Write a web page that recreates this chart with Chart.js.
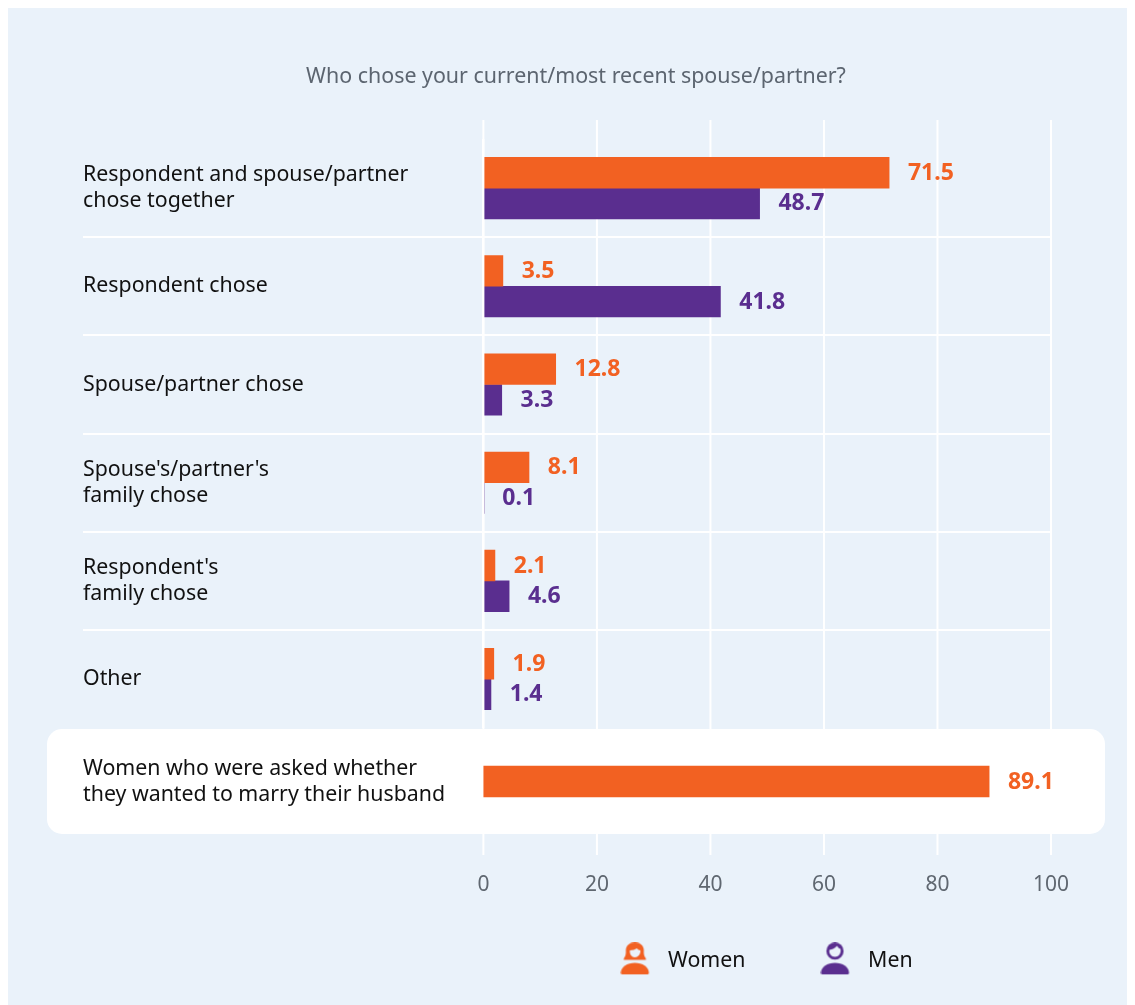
<!DOCTYPE html>
<html>
<head>
<meta charset="utf-8">
<title>Who chose your current/most recent spouse/partner?</title>
<script src="https://cdn.jsdelivr.net/npm/chart.js@4"></script>
<style>
html, body { margin: 0; padding: 0; background: #fff; overflow: hidden; }
#wrap { position: relative; width: 1135px; height: 1005px; overflow: hidden; }
#panel { position: absolute; left: 8px; top: 8px; width: 1119px; height: 997px; background: #eaf2fa; }
#wrap canvas { position: absolute; left: 0; top: 0; }
#title { position: absolute; left: 0; top: 60px; width: 1152px; text-align: center; font: 21.4px "Noto Sans"; line-height: 30px; color: #5c6570; }
</style>
</head>
<body>
<div id="wrap">
  <div id="panel"></div>
  <canvas id="askedChart" width="1135" height="1005"></canvas>
  <canvas id="choseChart" width="1135" height="1005"></canvas>
  <div id="title">Who chose your current/most recent spouse/partner?</div>
</div>
<script>
const categories = [
  ["Respondent and spouse/partner", "chose together"],
  "Respondent chose",
  "Spouse/partner chose",
  ["Spouse's/partner's", "family chose"],
  ["Respondent's", "family chose"],
  "Other"
];
const women = [71.5, 3.5, 12.8, 8.1, 2.1, 1.9];
const men = [48.7, 41.8, 3.3, 0.1, 4.6, 1.4];
const askedCategory = [["Women who were asked whether", "they wanted to marry their husband"]];
const askedWomen = [89.1];

const ORANGE = "#f26122";
const PURPLE = "#5a2e8f";
const FONT = "Noto Sans";

// little person icons for the legend
function makeIcon(color, isWoman) {
  const c = document.createElement("canvas");
  c.width = 30;
  c.height = 38;
  const g = c.getContext("2d");
  g.fillStyle = color;
  // body
  g.beginPath();
  g.moveTo(0.5, 30.5);
  g.bezierCurveTo(0.5, 24.5, 7, 20.5, 14.5, 20.5);
  g.bezierCurveTo(22, 20.5, 28.5, 24.5, 28.5, 30.5);
  g.quadraticCurveTo(28.5, 32, 27, 32);
  g.lineTo(2, 32);
  g.quadraticCurveTo(0.5, 32, 0.5, 30.5);
  g.fill();
  if (isWoman) {
    // hair
    g.beginPath();
    g.moveTo(3.5, 16);
    g.bezierCurveTo(6, 13, 5.5, 9, 5.5, 8);
    g.bezierCurveTo(5.5, 3, 9.5, 0, 14.5, 0);
    g.bezierCurveTo(19.5, 0, 23.5, 3, 23.5, 8);
    g.bezierCurveTo(23.5, 9, 23, 13, 25.5, 16);
    g.lineTo(25.5, 17.5);
    g.lineTo(3.5, 17.5);
    g.closePath();
    g.fill();
    g.globalCompositeOperation = "destination-out";
    g.beginPath();
    g.moveTo(9.5, 8);
    g.quadraticCurveTo(14, 8, 16.5, 6);
    g.quadraticCurveTo(18, 8, 20, 8);
    g.bezierCurveTo(20.5, 12, 17.5, 15, 14.5, 15);
    g.bezierCurveTo(11.5, 15, 9, 12, 9.5, 8);
    g.fill();
  } else {
    g.beginPath();
    g.arc(14.5, 8.7, 8.6, 0, Math.PI * 2);
    g.fill();
    g.globalCompositeOperation = "destination-out";
    g.beginPath();
    g.moveTo(9, 7.5);
    g.quadraticCurveTo(13.5, 7, 16.5, 3.5);
    g.quadraticCurveTo(18, 6, 20, 6.5);
    g.bezierCurveTo(21, 11, 18, 14.5, 14.5, 14.5);
    g.bezierCurveTo(11, 14.5, 8, 11, 9, 7.5);
    g.fill();
  }
  return c;
}
const icons = [makeIcon(ORANGE, true), makeIcon(PURPLE, false)];

// value labels at the end of each bar
const valueLabels = {
  id: "valueLabels",
  afterDatasetsDraw(chart) {
    const ctx = chart.ctx;
    ctx.save();
    ctx.font = "bold 23px '" + FONT + "'";
    ctx.textBaseline = "middle";
    ctx.textAlign = "left";
    chart.data.datasets.forEach(function (ds, i) {
      chart.getDatasetMeta(i).data.forEach(function (bar, j) {
        ctx.fillStyle = ds.backgroundColor;
        ctx.fillText(ds.data[j].toFixed(1), bar.x + 18.8, bar.y + 0.5);
      });
    });
    ctx.restore();
  }
};

// vertical white lines for the whole figure, then the white box over them
const backdrop = {
  id: "backdrop",
  beforeDraw(chart) {
    const ctx = chart.ctx;
    const x = chart.scales.x;
    const area = chart.chartArea;
    ctx.save();
    ctx.strokeStyle = "#fff";
    ctx.lineWidth = 2;
    x.ticks.forEach(function (t) {
      const px = x.getPixelForValue(t.value);
      ctx.beginPath();
      ctx.moveTo(px, 120);
      ctx.lineTo(px, 855);
      ctx.stroke();
    });
    ctx.fillStyle = "#fff";
    ctx.beginPath();
    ctx.roundRect(47, area.top, 1058, area.bottom - area.top, 15);
    ctx.fill();
    ctx.restore();
  }
};

// legend sits a bit left of the plot centre
const legendShift = {
  id: "legendShift",
  afterLayout(chart) {
    chart.legend.left -= 4;
    chart.legend.right -= 4;
  }
};

const labelFont = { family: FONT, size: 21.33, lineHeight: 1.22 };

new Chart(document.getElementById("askedChart"), {
  type: "bar",
  data: {
    labels: askedCategory,
    datasets: [{ label: "Women", data: askedWomen, backgroundColor: ORANGE, barThickness: 31 }]
  },
  plugins: [backdrop, valueLabels],
  options: {
    indexAxis: "y",
    responsive: false,
    animation: false,
    layout: { padding: { left: 83, right: 84, top: 729, bottom: 0 } },
    plugins: { legend: { display: false }, tooltip: { enabled: false } },
    scales: {
      x: {
        min: 0,
        max: 100,
        grid: { display: false, drawTicks: false },
        border: { display: false },
        ticks: { stepSize: 20, color: "#5f6770", padding: 38, font: { family: FONT, size: 21 }, maxRotation: 0 },
        afterFit(axis) { axis.height = 171; }
      },
      y: {
        grid: { display: false },
        border: { display: false },
        ticks: { color: "#111", crossAlign: "far", font: labelFont },
        afterFit(axis) { axis.width = 400.4; }
      }
    }
  }
});

new Chart(document.getElementById("choseChart"), {
  type: "bar",
  data: {
    labels: categories,
    datasets: [
      { label: "Women", data: women, backgroundColor: ORANGE, barThickness: 30.7 },
      { label: "Men", data: men, backgroundColor: PURPLE, barThickness: 30.7 }
    ]
  },
  plugins: [valueLabels, legendShift],
  options: {
    indexAxis: "y",
    responsive: false,
    animation: false,
    layout: { padding: { left: 83, right: 84, top: 139, bottom: 23 } },
    plugins: {
      tooltip: { enabled: false },
      legend: {
        position: "bottom",
        fullSize: false,
        labels: {
          usePointStyle: true,
          pointStyleWidth: 44,
          padding: 68,
          color: "#111",
          font: { family: FONT, size: 21.33 },
          generateLabels(chart) {
            return Chart.defaults.plugins.legend.labels.generateLabels(chart).map(function (l, i) {
              l.pointStyle = icons[i];
              return l;
            });
          }
        }
      }
    },
    scales: {
      x: {
        min: 0,
        max: 100,
        // the zero line runs over the start of the bars here
        grid: {
          z: 1,
          lineWidth: 2.4,
          drawTicks: false,
          color(ctx) { return ctx.tick && ctx.tick.value === 0 ? "#fff" : "rgba(0,0,0,0)"; }
        },
        border: { display: false },
        ticks: { display: false, stepSize: 20 },
        afterFit(axis) { axis.height = 154.5; }
      },
      y: {
        border: { display: false },
        grid: {
          lineWidth: 2,
          tickLength: 400,
          // no line above the first row or under the last one (last has no tick in its context)
          color(ctx) { return ctx.index === 0 || !ctx.tick ? "rgba(0,0,0,0)" : "#fff"; }
        },
        ticks: { color: "#111", crossAlign: "far", font: labelFont },
        afterFit(axis) { axis.width = 400; }
      }
    }
  }
});
</script>
</body>
</html>
